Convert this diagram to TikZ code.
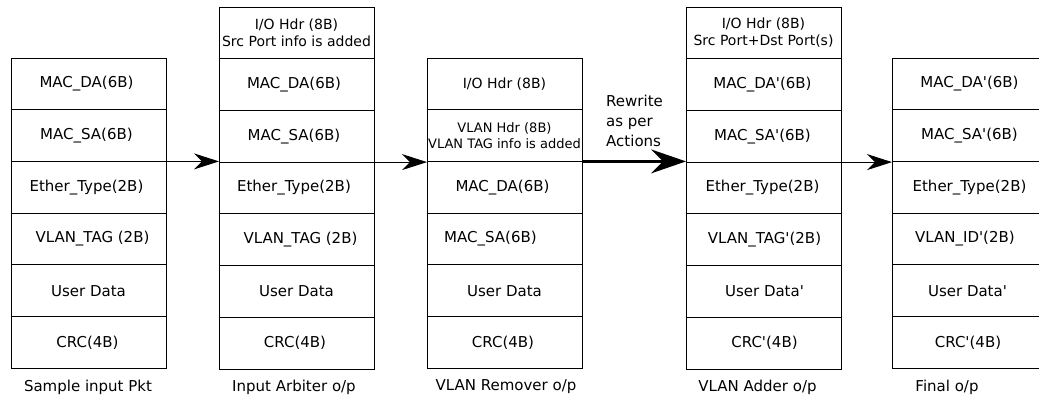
\documentclass[tikz,border=0pt]{standalone}
\usepackage{fontspec}
\setmainfont{DejaVu Sans}[Ligatures=TeXOff]
\usetikzlibrary{arrows.meta}
\tikzset{
  cell/.style={draw, line width=0.8pt, minimum width=155pt, minimum height=51.7pt,
    inner sep=0pt, outer sep=0pt, anchor=north west, font=\fontsize{15}{18}\selectfont, align=center},
  hdr/.style={font=\fontsize{14}{17}\selectfont},
  vhdr/.style={font=\fontsize{13}{16}\selectfont},
  captxt/.style={font=\fontsize{15}{18}\selectfont, anchor=center, inner sep=0pt},
  arr/.style={line width=1pt, -{Stealth[length=25pt,width=16pt,inset=8pt]}},
  bigarr/.style={line width=2.5pt, -{Stealth[length=35pt,width=24pt,inset=12pt]}}
}
\begin{document}
\begin{tikzpicture}[x=1pt,y=-1pt]
\clip (0,0) rectangle (1039,396);
% Box 1
\node[cell] (a1) at (11,58) {MAC\_DA(6B)\hspace*{4pt}};
\node[cell] (a2) at (a1.south west) {MAC\_SA(6B)\hspace*{4pt}};
\node[cell] (a3) at (a2.south west) {Ether\_Type(2B)\hspace*{4pt}};
\node[cell] (a4) at (a3.south west) {\hspace*{8pt}VLAN\_TAG (2B)};
\node[cell] (a5) at (a4.south west) {User Data};
\node[cell] (a6) at (a5.south west) {CRC(4B)\hspace*{2pt}};
\node[captxt] (ca) at (88,387) {Sample input Pkt};
% Box 2
\node[cell,hdr] (b1) at (219,7) {I/O Hdr (8B)\\Src Port info is added};
\node[cell] (b2) at (b1.south west) {MAC\_DA(6B)\hspace*{5pt}};
\node[cell] (b3) at (b2.south west) {MAC\_SA(6B)\hspace*{5pt}};
\node[cell] (b4) at (b3.south west) {Ether\_Type(2B)\hspace*{5pt}};
\node[cell] (b5) at (b4.south west) {\hspace*{8pt}VLAN\_TAG (2B)};
\node[cell] (b6) at (b5.south west) {User Data};
\node[cell] (b7) at (b6.south west) {CRC(4B)\hspace*{3pt}};
\node[captxt] (cb) at (294,387) {Input Arbiter o/p};
% Box 3
\node[cell,hdr] (c1) at (427,58) {I/O Hdr (8B)};
\node[cell,vhdr] (c2) at (c1.south west) {VLAN Hdr (8B)\\VLAN TAG info is added};
\node[cell] (c3) at (c2.south west) {MAC\_DA(6B)\hspace*{4pt}};
\node[cell] (c4) at (c3.south west) {MAC\_SA(6B)\hspace*{28pt}};
\node[cell] (c5) at (c4.south west) {User Data};
\node[cell] (c6) at (c5.south west) {CRC(4B)\hspace*{3pt}};
\node[captxt] (cc) at (506,387) {VLAN Remover o/p};
% Box 4
\node[cell,hdr] (d1) at (686,7) {I/O Hdr (8B)\\Src Port+Dst Port(s)};
\node[cell] (d2) at (d1.south west) {MAC\_DA'(6B)\hspace*{2pt}};
\node[cell] (d3) at (d2.south west) {MAC\_SA'(6B)\hspace*{2pt}};
\node[cell] (d4) at (d3.south west) {Ether\_Type(2B)\hspace*{2pt}};
\node[cell] (d5) at (d4.south west) {\hspace*{2pt}VLAN\_TAG'(2B)};
\node[cell] (d6) at (d5.south west) {\hspace*{2pt}User Data'};
\node[cell] (d7) at (d6.south west) {\hspace*{2pt}CRC'(4B)};
\node[captxt] (cd) at (757.5,387) {VLAN Adder o/p};
% Box 5
\node[cell] (e1) at (892,58) {MAC\_DA'(6B)};
\node[cell] (e2) at (e1.south west) {MAC\_SA'(6B)};
\node[cell] (e3) at (e2.south west) {Ether\_Type(2B)};
\node[cell] (e4) at (e3.south west) {VLAN\_ID'(2B)\hspace*{9pt}};
\node[cell] (e5) at (e4.south west) {User Data'\hspace*{4pt}};
\node[cell] (e6) at (e5.south west) {CRC'(4B)\hspace*{3pt}};
\node[captxt] (ce) at (947,387) {Final o/p};
% Rewrite label
\node[anchor=north west, inner sep=0pt, align=left, font=\fontsize{15}{20}\selectfont] (rw) at (606,95) {Rewrite\\as per\\Actions};
% Arrows
\draw[arr] (a2.south east) -- (a2.south east -| b3.west);
\draw[arr] (b3.south east) -- (b3.south east -| c2.west);
\draw[bigarr] (c2.south east) -- (c2.south east -| d3.west);
\draw[arr] (d3.south east) -- (d3.south east -| e2.west);
\end{tikzpicture}
\end{document}
